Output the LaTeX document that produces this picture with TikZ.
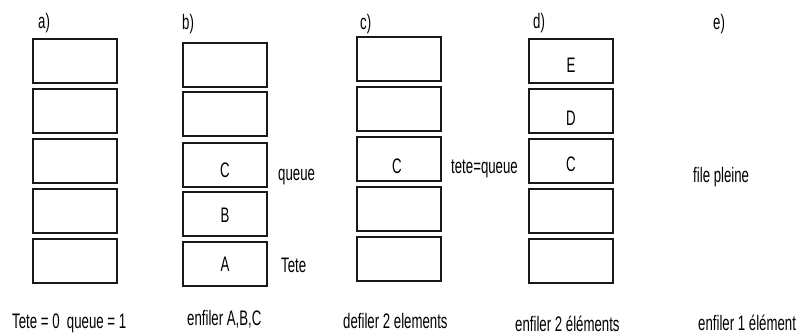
\documentclass[tikz,border=0pt]{standalone}
\usepackage{fontspec}
\setmainfont{Liberation Sans}[FakeStretch=0.63]
\begin{document}
\begin{tikzpicture}[x=1pt,y=-1pt,
  cell/.style={draw=black!90, line width=2pt, minimum width=84pt,
    minimum height=44pt, inner sep=0pt},
  txt/.style={inner sep=0pt, text=black,
    font=\fontsize{21pt}{25pt}\selectfont}]
\useasboundingbox (0,0) rectangle (802,335);

% a) empty queue
\foreach \i/\y in {1/61,2/111,3/161,4/211,5/260.5}
  \node[cell] (a\i) at (75,\y) {};
% b) after enqueuing A, B, C
\foreach \i/\y in {1/64.5,2/114,3/164.5,4/214,5/264}
  \node[cell] (b\i) at (225,\y) {};
% c) after dequeuing two elements
\foreach \i/\y in {1/58.5,2/108.5,3/159,4/208.5,5/259}
  \node[cell] (c\i) at (399,\y) {};
% d) after enqueuing two more
\foreach \i/\y in {1/61,2/111,3/161,4/211,5/261}
  \node[cell] (d\i) at (570.5,\y) {};

% cell contents
\node[txt] (bC) at (225,170) {C};
\node[txt] (bB) at (225,215) {B};
\node[txt] (bA) at (225,264.5) {A};
\node[txt] (cC) at (397,166) {C};
\node[txt] (dE) at (571,65) {E};
\node[txt] (dD) at (571,118) {D};
\node[txt] (dC) at (571,164) {C};

% panel letters
\node[txt, anchor=base west] (la) at (38,28) {a)};
\node[txt, anchor=base west] (lb) at (182,29) {b)};
\node[txt, anchor=base west] (lc) at (360,29) {c)};
\node[txt, anchor=base west] (ld) at (533,28) {d)};
\node[txt, anchor=base west] (le) at (713,29) {e)};

% pointer labels
\node[txt, anchor=base west] (queueb) at (278,180) {queue};
\node[txt, anchor=base west] (teteb) at (281,272) {Tete};
\node[txt, anchor=base west] (tq) at (451,173) {tete=queue};
\node[txt, anchor=base west] (full) at (693,182) {file pleine};

% captions
\node[txt, anchor=base west] (capa) at (12,328) {Tete = 0\ \ queue = 1};
\node[txt, anchor=base west] (capb) at (187,325) {enfiler A,B,C};
\node[txt, anchor=base west] (capc) at (343,328) {defiler 2 elements};
\node[txt, anchor=base west] (capd) at (515,331) {enfiler 2 éléments};
\node[txt, anchor=base west] (cape) at (698,330) {enfiler 1 élément};
\end{tikzpicture}
\end{document}
